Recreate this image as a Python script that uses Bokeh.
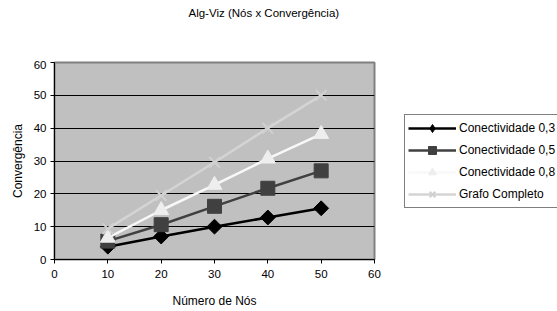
from bokeh.plotting import figure
from bokeh.layouts import column, row
from bokeh.models import Range1d, Legend, LegendItem, Title, FixedTicker
from bokeh.embed import file_html
from bokeh.resources import INLINE
import math

# ---- data ----
nodes = [10, 20, 30, 40, 50]
conect_03 = [3.9, 7.0, 10.0, 12.8, 15.6]
conect_05 = [5.6, 10.6, 16.2, 21.7, 27.0]
conect_08 = [6.6, 15.0, 22.7, 30.7, 38.2]
grafo_completo = [9.4, 19.5, 29.6, 40.0, 50.0]
series_names = ["Conectividade 0,3", "Conectividade 0,5", "Conectividade 0,8", "Grafo Completo"]
x_ticks = [0, 10, 20, 30, 40, 50, 60]
y_ticks = [0, 10, 20, 30, 40, 50, 60]
title_text = "Alg-Viz (Nós x Convergência)"
x_label = "Número de Nós"
y_label = "Convergência"

FONT = "Liberation Sans"


def blank_figure(width, height, xr, yr):
    fig = figure(width=width, height=height, output_backend="svg", toolbar_location=None,
                 x_range=xr, y_range=yr, min_border=0,
                 x_axis_location=None, y_axis_location=None)
    fig.xgrid.visible = False
    fig.ygrid.visible = False
    fig.outline_line_color = None
    fig.background_fill_color = "white"
    fig.border_fill_color = "white"
    return fig


# ---- title strip ----
title_fig = blank_figure(557, 60, Range1d(0, 1), Range1d(0, 1))
title_fig.title = Title(text=title_text, align="left", offset=188, vertical_align="top", standoff=13,
                        text_font=FONT, text_font_size="11.5px", text_font_style="normal",
                        text_color="black")

# ---- main chart ----
p = figure(width=403, height=251, output_backend="svg", toolbar_location=None,
           x_range=Range1d(0, 60), y_range=Range1d(0, 60),
           min_border_left=54, min_border_right=29, min_border_top=2, min_border_bottom=52)
p.border_fill_color = "white"
p.background_fill_color = "#C0C0C0"
p.outline_line_color = "#808080"
p.outline_line_width = 2

p.xgrid.visible = False
p.ygrid.ticker = FixedTicker(ticks=y_ticks[1:-1])
p.ygrid.grid_line_color = "black"
p.ygrid.grid_line_width = 1

for ax, ticks in ((p.xaxis, x_ticks), (p.yaxis, y_ticks)):
    ax.ticker = FixedTicker(ticks=ticks)
    ax.major_tick_in = 0
    ax.major_tick_out = 4
    ax.minor_tick_line_color = None
    ax.axis_line_color = "black"
    ax.major_tick_line_color = "black"
    ax.major_label_text_font = FONT
    ax.major_label_text_font_size = "11.5px"
    ax.major_label_text_color = "black"
    ax.axis_label_text_font = FONT
    ax.axis_label_text_font_size = "12px"
    ax.axis_label_text_font_style = "normal"
    ax.axis_label_text_color = "black"

p.xaxis.axis_label = x_label
p.yaxis.axis_label = y_label
p.xaxis.major_label_standoff = 6
p.xaxis.axis_label_standoff = 13
p.yaxis.major_label_standoff = 4
p.yaxis.axis_label_standoff = 6

styles = [
    dict(data=conect_03, line="#000000", marker="square", legend_marker="diamond", fill="#000000",
         mline="#000000", size=10.5, angle=math.pi / 4),
    dict(data=conect_05, line="#404040", marker="square", legend_marker="square", fill="#404040",
         mline="#404040", size=14, angle=0),
    dict(data=conect_08, line="#F8F8F8", marker="triangle", legend_marker="triangle", fill="#EEEEEE",
         mline="#EEEEEE", size=15, angle=0),
    dict(data=grafo_completo, line="#D4D4D4", marker="x", legend_marker="x", fill="#D4D4D4",
         mline="#D0D0D0", size=15, angle=0),
]

for st in styles:
    p.line(nodes, st["data"], line_color=st["line"], line_width=2.5)
    p.scatter(nodes, st["data"], marker=st["marker"], size=st["size"], angle=st["angle"],
              fill_color=st["fill"], line_color=st["mline"],
              line_width=2 if st["marker"] == "x" else 1)

# ---- legend strip (its renderers sit outside its visible range; only the legend shows) ----
spacer_fig = blank_figure(154, 53, Range1d(0, 1), Range1d(0, 1))
leg_fig = blank_figure(154, 198, Range1d(100, 101), Range1d(100, 101))
items = []
for name, st in zip(series_names, styles):
    l = leg_fig.line(nodes, st["data"], line_color=st["line"], line_width=2.5)
    s = leg_fig.scatter(nodes, st["data"], marker=st["legend_marker"], size=st["size"],
                        fill_color=st["fill"], line_color=st["mline"],
                        line_width=2 if st["marker"] == "x" else 1)
    items.append(LegendItem(label=name, renderers=[l, s]))

legend = Legend(items=items, location="top_left", padding=3, spacing=2,
                label_height=20, glyph_height=20, glyph_width=48, label_standoff=3,
                label_text_font=FONT, label_text_font_size="12px", label_text_color="black",
                border_line_color="black", border_line_width=1, background_fill_color="white",
                background_fill_alpha=1, margin=1)
leg_fig.add_layout(legend, "center")

layout = column(title_fig, row(p, column(spacer_fig, leg_fig, spacing=0), spacing=0), spacing=0)

open("out.html", "w").write(file_html(layout, INLINE))
